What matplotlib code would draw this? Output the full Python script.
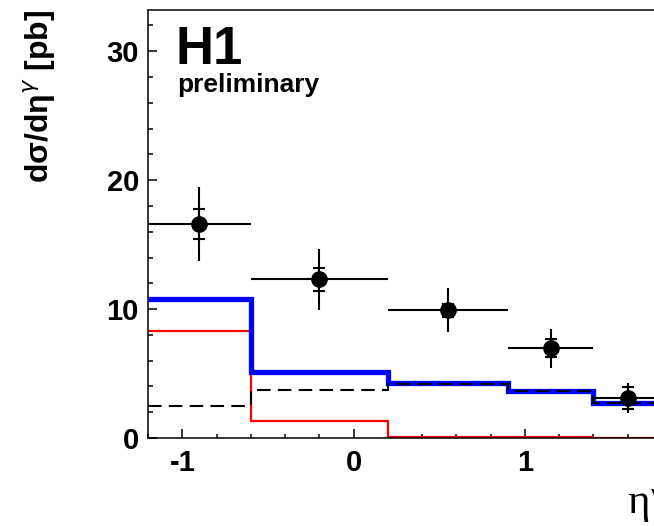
"""H1 preliminary: photon pseudorapidity cross section, data vs. predictions."""

import matplotlib

matplotlib.use("Agg")
import matplotlib.pyplot as plt
import numpy as np
from matplotlib.ticker import MultipleLocator

# bin edges in eta^gamma
eta_edges = [-1.2, -0.6, 0.2, 0.9, 1.4, 1.8]

# measured cross section [pb] with stat and total errors
data_xsec = [16.6, 12.3, 9.9, 6.95, 3.1]
data_stat = [1.2, 0.88, 0.5, 0.7, 0.88]
data_tot = [2.9, 2.35, 1.7, 1.5, 1.14]

# predictions [pb]
pred_total = [10.75, 5.1, 4.3, 3.68, 2.74]   # blue, thick
pred_red = [8.29, 1.29, 0.08, 0.04, 0.03]    # red, thin
pred_dashed = [2.48, 3.72, 4.18, 3.65, 2.7]  # black dashed

x_ticks = [-1, 0, 1]
x_tick_labels = ["-1", "0", "1"]
y_ticks = [0, 10, 20, 30]
y_tick_labels = ["0", "10", "20", "30"]

FONT = "Liberation Sans"

fig = plt.figure(figsize=(6.54, 5.26), dpi=100)
ax = fig.add_axes([148 / 654, 88 / 526, 514 / 654, 428 / 526])

edges = np.array(eta_edges)
centers = 0.5 * (edges[:-1] + edges[1:])
half = 0.5 * np.diff(edges)

ax.stairs(pred_red, edges, baseline=None, color="#ff0000", lw=1.6, zorder=2)
ax.stairs(pred_total, edges, baseline=None, color="#0000ff", lw=3.8, zorder=3)
ax.stairs(pred_dashed, edges, baseline=None, color="black", lw=1.5,
          linestyle=(0, (6.5, 3.5)), zorder=4)

ax.errorbar(centers, data_xsec, xerr=half, yerr=data_tot, fmt="o", color="black",
            ms=11, elinewidth=1.5, capsize=0, zorder=5)
ax.errorbar(centers, data_xsec, yerr=data_stat, fmt="none", ecolor="black",
            elinewidth=1.5, capsize=4.5, capthick=1.5, zorder=5)

ax.set_xlim(-1.2, 1.8)
ax.set_ylim(0, 33.2)

ax.set_xticks(x_ticks)
ax.set_xticklabels(x_tick_labels)
ax.set_yticks(y_ticks)
ax.set_yticklabels(y_tick_labels)
ax.xaxis.set_minor_locator(MultipleLocator(0.2))
ax.yaxis.set_minor_locator(MultipleLocator(2))
ax.tick_params(axis="both", which="both", direction="in", width=1.1,
               top=False, right=False)
ax.tick_params(axis="x", which="major", length=6.5, pad=8)
ax.tick_params(axis="x", which="minor", length=3.2)
ax.tick_params(axis="y", which="major", length=6.5, pad=6.5)
ax.tick_params(axis="y", which="minor", length=3.4)
for lab in ax.get_xticklabels() + ax.get_yticklabels():
    lab.set_fontfamily(FONT)
    lab.set_fontweight("bold")
    lab.set_fontsize(21)
for sp in ax.spines.values():
    sp.set_linewidth(1.1)

# labels and H1 tag
fig.text(40 / 654, 1 - 10 / 526, "dσ/dη$^{\\gamma}$ [pb]", rotation=90,
         ha="center", va="top", fontfamily=FONT, fontweight="bold", fontsize=23)
fig.text(627 / 654, 1 - 513 / 526, "η", ha="left", va="baseline",
         fontfamily="Liberation Serif", fontsize=31)
fig.text(650 / 654, 1 - 500 / 526, "γ", ha="left", va="baseline",
         fontfamily="Liberation Serif", fontsize=17)
fig.text(175 / 654, 1 - 64 / 526, "H1", ha="left", va="baseline",
         fontfamily=FONT, fontweight="bold", fontsize=38)
fig.text(177 / 654, 1 - 92 / 526, "preliminary", ha="left", va="baseline",
         fontfamily=FONT, fontweight="bold", fontsize=19)

fig.savefig("out.png", dpi=100)
